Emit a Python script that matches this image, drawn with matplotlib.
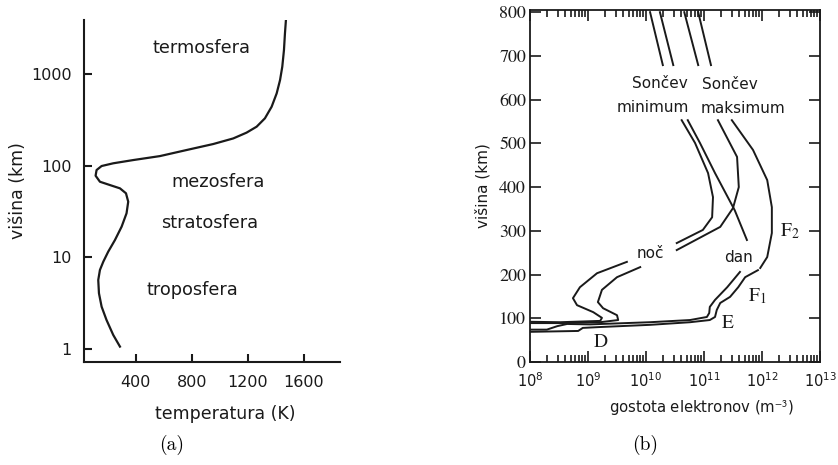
import matplotlib
matplotlib.use("Agg")
import matplotlib.pyplot as plt
import numpy as np
from matplotlib.ticker import FixedLocator, LogLocator, NullFormatter

plt.rcParams['mathtext.fontset'] = 'stix'

# (a) temperature profile of the atmosphere
temp_K = [286, 238, 190, 155, 136, 131, 143, 167, 202, 250, 298, 333, 345, 329, 286, 214, 143, 112,
          119, 155, 238, 381, 571, 762, 952, 1095, 1190, 1262, 1321, 1369, 1405, 1429, 1445, 1457, 1464, 1471]
height_km = [1.06, 1.42, 2.07, 2.89, 4.05, 5.65, 7.27, 8.95, 11.5, 15.4, 21.6, 30.2, 40.4, 49.9, 56.5,
             61.4, 66.7, 77.6, 89.5, 99, 106, 115, 127, 148, 172, 198, 229, 266, 328, 439, 614, 857,
             1199, 1820, 2755, 3870]
layer_names = ['termosfera', 'mezosfera', 'stratosfera', 'troposfera']
layer_pos = [(870, 1900), (986, 66), (929, 23.7), (800, 4.4)]

# (b) electron density profiles, log10(n) vs height, split where labels break the lines
night_min = [
    ([10.07, 10.29], [800, 679]),
    ([10.615, 10.845, 11.07, 11.155, 11.14, 10.98, 10.53], [553, 501, 432, 377, 331, 302, 272]),
    ([9.67, 9.155, 8.86, 8.74, 8.81, 9.09, 9.24, 9.21, 8.52, 8.0], [229, 203, 171, 146, 130, 114, 101, 94, 91, 92]),
]
night_max = [
    ([10.24, 10.47], [800, 679]),
    ([11.24, 11.57, 11.60, 11.50, 11.28, 10.53], [553, 469, 400, 352, 309, 256]),
    ([9.90, 9.50, 9.24, 9.17, 9.26, 9.50, 9.52, 9.21, 8.52, 8.0], [217, 194, 165, 137, 123, 107, 96, 91, 89, 89]),
]
day_min = [
    ([10.66, 10.90], [800, 679]),
    ([10.72, 10.93, 11.19, 11.53, 11.74], [553, 501, 432, 347, 279]),
    ([11.62, 11.40, 11.19, 11.10, 11.09, 11.05, 10.76, 10.07, 9.03, 8.64, 8.47, 8.29, 8.0],
     [206, 171, 142, 126, 112, 103, 96, 91, 86, 87, 82, 74, 74]),
]
day_max = [
    ([10.90, 11.12], [800, 679]),
    ([11.48, 11.845, 12.09, 12.17, 12.17, 12.09, 11.97], [553, 485, 416, 354, 295, 240, 215]),
    ([11.93, 11.71, 11.59, 11.45, 11.28, 11.22, 11.19, 11.10, 10.76, 10.07, 9.21, 8.91, 8.83, 8.0],
     [210, 194, 171, 149, 135, 119, 103, 96, 91, 85, 80, 78, 71, 69]),
]
ion_labels = [('Sončev', 10.24, 638), ('minimum', 10.12, 582), ('Sončev', 11.45, 634),
              ('maksimum', 11.68, 580), ('noč', 10.07, 249), ('dan', 11.60, 238)]
region_labels = [(r'$\mathrm{F}_2$', 12.48, 300), (r'$\mathrm{F}_1$', 11.91, 150),
                 (r'$\mathrm{E}$', 11.41, 90), (r'$\mathrm{D}$', 9.21, 48)]

ink = '#1a1a1a'
fig = plt.figure(figsize=(8.38, 4.65), dpi=100)

# ---------- panel (a) ----------
ax1 = fig.add_axes([0.1002, 0.2215, 0.3055, 0.7355])
ax1.plot(temp_K, height_km, color=ink, linewidth=1.6)
ax1.set_yscale('log')
ax1.set_xlim(29, 1857)
ax1.set_ylim(0.72, 3880)
ax1.spines['top'].set_visible(False)
ax1.spines['right'].set_visible(False)
for s in ('left', 'bottom'):
    ax1.spines[s].set_linewidth(1.5)
    ax1.spines[s].set_color(ink)
ax1.xaxis.set_major_locator(FixedLocator([400, 800, 1200, 1600]))
ax1.yaxis.set_major_locator(FixedLocator([1, 10, 100, 1000]))
ax1.yaxis.set_minor_locator(FixedLocator([]))
ax1.set_yticklabels(['1', '10', '100', '1000'])
ax1.tick_params(direction='in', length=6, width=1.5, labelsize=11.5, colors=ink, pad=9)
ax1.set_xlabel('temperatura (K)', fontsize=12.5, color=ink)
ax1.set_ylabel('višina (km)', fontsize=12.5, color=ink)
ax1.xaxis.set_label_coords(0.55, -0.126)
ax1.yaxis.set_label_coords(-0.223, 0.5)
for name, (x, y) in zip(layer_names, layer_pos):
    ax1.text(x, y, name, fontsize=12.8, color=ink, ha='center', va='center')

# ---------- panel (b) ----------
ax2 = fig.add_axes([0.6325, 0.2215, 0.346, 0.757])
for curve in (night_min, night_max, day_min, day_max):
    for logn, h in curve:
        ax2.plot(10 ** np.array(logn), h, color=ink, linewidth=1.4)
ax2.set_xscale('log')
ax2.set_xlim(1e8, 1e13)
ax2.set_ylim(0, 805)
for s in ax2.spines.values():
    s.set_linewidth(1.3)
    s.set_color(ink)
ax2.yaxis.set_major_locator(FixedLocator(np.arange(0, 801, 100)))
ax2.xaxis.set_major_locator(LogLocator(base=10, numticks=10))
ax2.xaxis.set_minor_locator(LogLocator(base=10, subs=np.arange(2, 10), numticks=20))
ax2.xaxis.set_minor_formatter(NullFormatter())
ax2.tick_params(which='both', direction='in', top=True, right=True, colors=ink, width=1.2)
ax2.tick_params(axis='x', labelsize=10.5, pad=7)
ax2.tick_params(axis='y', labelsize=13, pad=3)
ax2.tick_params(which='major', length=8)
ax2.tick_params(which='minor', length=5)
for lab in ax2.get_yticklabels():
    lab.set_fontfamily('STIXGeneral')
ax2.set_xlabel('gostota elektronov (m$^{\\mathsf{-3}}$)', fontsize=10.7, color=ink)
ax2.set_ylabel('višina (km)', fontsize=11, color=ink)
ax2.xaxis.set_label_coords(0.593, -0.102)
ax2.yaxis.set_label_coords(-0.138, 0.5)
for txt, lx, hy in ion_labels:
    ax2.text(10 ** lx, hy, txt, fontsize=11, color=ink, ha='center', va='center')
for txt, lx, hy in region_labels:
    ax2.text(10 ** lx, hy, txt, fontsize=14, color=ink, ha='center', va='center')

fig.text(172 / 838, 1 - 445 / 465, '(a)', fontfamily='cmr10', fontsize=14, ha='center', va='center')
fig.text(645 / 838, 1 - 445 / 465, '(b)', fontfamily='cmr10', fontsize=14, ha='center', va='center')

fig.savefig('out.png', dpi=100)
